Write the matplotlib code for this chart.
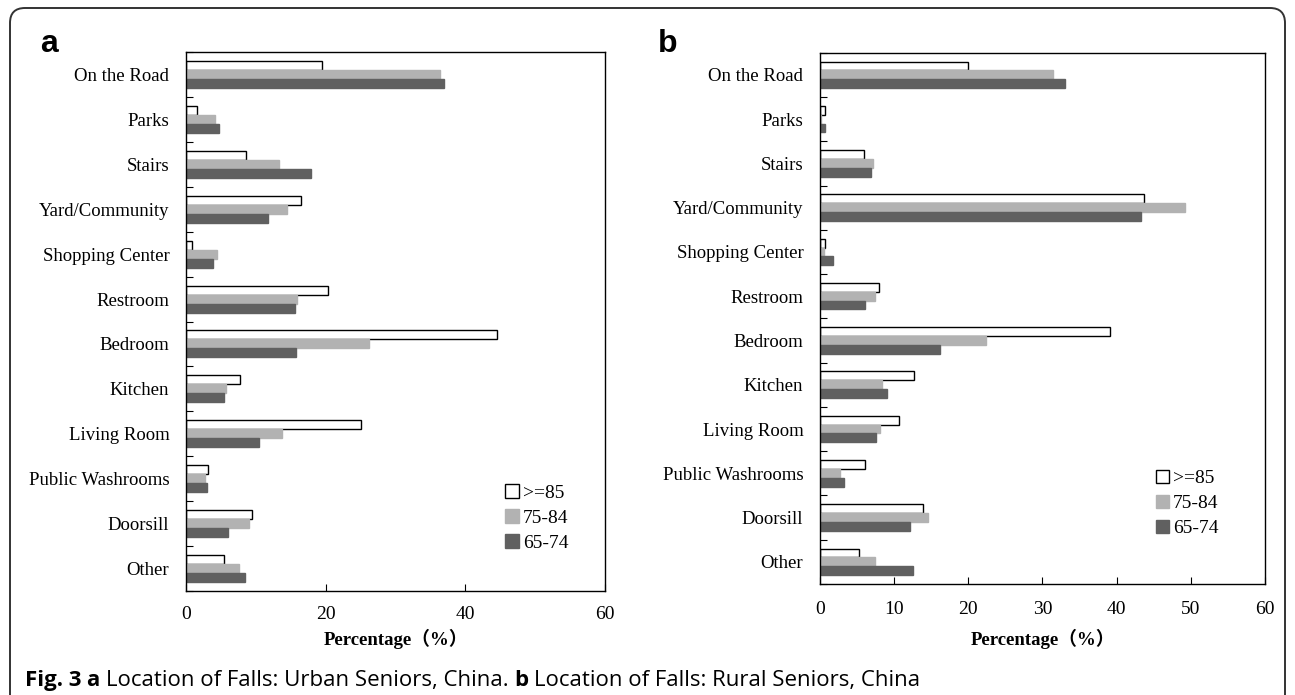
import matplotlib.pyplot as plt
import numpy as np
from matplotlib.patches import Patch, FancyBboxPatch

categories = ['On the Road', 'Parks', 'Stairs', 'Yard/Community', 'Shopping Center',
              'Restroom', 'Bedroom', 'Kitchen', 'Living Room', 'Public Washrooms',
              'Doorsill', 'Other']
groups = ['>=85', '75-84', '65-74']

# panel a: urban seniors
urban_85 = [19.5, 1.6, 8.6, 16.4, 0.8, 20.3, 44.6, 7.8, 25.0, 3.1, 9.4, 5.5]
urban_75 = [36.4, 4.1, 13.3, 14.5, 4.4, 15.9, 26.2, 5.7, 13.8, 2.7, 9.0, 7.6]
urban_65 = [36.9, 4.8, 17.9, 11.7, 3.8, 15.6, 15.7, 5.5, 10.4, 3.0, 6.0, 8.4]

# panel b: rural seniors
rural_85 = [20.0, 0.7, 6.0, 43.7, 0.7, 8.0, 39.1, 12.7, 10.7, 6.1, 13.9, 5.3]
rural_75 = [31.4, 0.1, 7.1, 49.2, 0.5, 7.4, 22.4, 8.3, 8.1, 2.7, 14.6, 7.4]
rural_65 = [33.0, 0.7, 6.9, 43.3, 1.7, 6.1, 16.2, 9.1, 7.6, 3.2, 12.1, 12.5]

face = ['white', '#b2b2b2', '#606060']
edge = ['black', '#b2b2b2', '#606060']

serif = ['Liberation Serif', 'Noto Sans CJK SC']
plt.rcParams['font.family'] = serif

fig = plt.figure(figsize=(12.95, 6.95), dpi=100)
ax_a = fig.add_axes([0.1436, 0.1496, 0.3236, 0.7756])
ax_b = fig.add_axes([0.6332, 0.1597, 0.3436, 0.7645])


def draw(ax, series, xticks, tick_pad, label_pad, leg_pos):
    y = np.arange(len(categories))
    h = 0.2
    for k, vals in enumerate(series):
        ax.barh(y + (k - 1) * h, vals, height=h, color=face[k],
                edgecolor=edge[k], linewidth=1.0)
    ax.set_ylim(len(categories) - 0.5, -0.5)
    ax.set_xlim(0, 60)
    ax.set_yticks(y)
    ax.set_yticklabels(categories, fontsize=13.5)
    ax.set_yticks(np.arange(len(categories) + 1) - 0.5, minor=True)
    ax.tick_params(axis='y', which='major', length=0, pad=12)
    ax.tick_params(axis='y', which='minor', direction='in', length=5, width=0.8)
    ax.set_xticks(xticks)
    ax.tick_params(axis='x', direction='in', length=5, width=0.8,
                   labelsize=14, pad=tick_pad)
    for s in ax.spines.values():
        s.set_linewidth(1.0)
    ax.set_xlabel('Percentage（%）', fontsize=13.5, fontweight='bold',
                  family=serif, labelpad=label_pad)
    handles = [Patch(facecolor=face[k], edgecolor=edge[k], linewidth=1.0)
               for k in range(3)]
    ax.legend(handles, groups, loc='lower left', bbox_to_anchor=leg_pos,
              frameon=False, fontsize=14, handlelength=0.7, handleheight=0.7,
              handletextpad=0.2, labelspacing=0.38)


draw(ax_a, [urban_85, urban_75, urban_65], [0, 20, 40, 60], 11, 4, (0.72, 0.04))
draw(ax_b, [rural_85, rural_75, rural_65], [0, 10, 20, 30, 40, 50, 60], 12, 8, (0.715, 0.055))

fig.text(40 / 1295, 1 - 52 / 695, 'a', fontsize=23, fontweight='bold',
         family='Liberation Sans', va='baseline')
fig.text(658 / 1295, 1 - 52 / 695, 'b', fontsize=23, fontweight='bold',
         family='Liberation Sans', va='baseline')

# outer rounded frame, bottom runs off the picture
frame = FancyBboxPatch((0.10, -0.5), 12.75, 6.87 + 0.5,
                       boxstyle='round,pad=0,rounding_size=0.15',
                       transform=fig.dpi_scale_trans, facecolor='none',
                       edgecolor='#333333', linewidth=1.4, clip_on=False)
fig.patches.append(frame)

# caption with mixed weights
parts = [('Fig. 3 ', 'bold'), ('a ', 'bold'),
         ('Location of Falls: Urban Seniors, China. ', 'normal'),
         ('b ', 'bold'), ('Location of Falls: Rural Seniors, China', 'normal')]
prev = fig.text(25 / 1295, 1 - 691 / 695, parts[0][0], fontsize=16,
                fontweight=parts[0][1], family='Open Sans', va='bottom')
for txt, w in parts[1:]:
    prev = ax_a.annotate(txt, xy=(1, 0), xycoords=prev, va='bottom', ha='left',
                         fontsize=16, fontweight=w, family='Open Sans',
                         annotation_clip=False)

fig.savefig('out.png', dpi=100)
